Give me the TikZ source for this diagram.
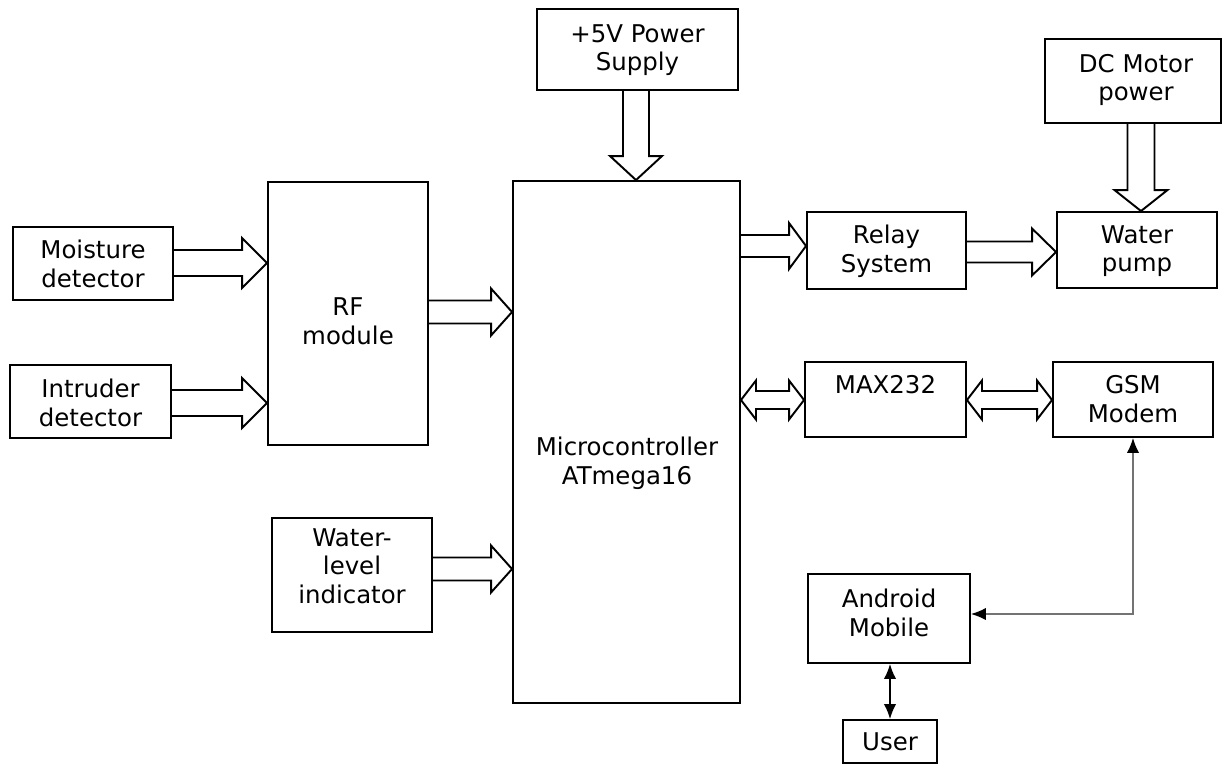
\documentclass[tikz,border=0pt]{standalone}
\usepackage{fontspec}
\setmainfont{DejaVu Sans}
\usetikzlibrary{calc,arrows.meta}
\tikzset{
  boxst/.style={draw, line width=1.1pt, inner sep=0pt},
  txt/.style={align=center, inner sep=0pt, font=\fontsize{13.9}{16.3}\selectfont},
  barrow/.style={draw, line width=1.1pt, line join=miter},
  greyline/.style={draw=black!55, line width=0.8pt, {Latex[length=8.5pt,width=7pt,color=black]}-{Latex[length=8.5pt,width=7pt,color=black]}},
  userline/.style={draw, line width=0.8pt, {Latex[length=8.5pt,width=7pt]}-{Latex[length=8.5pt,width=7pt]}}
}
\newcommand\blk[5]{\node[boxst, minimum width=#4*0.02cm, minimum height=#5*0.02cm] (#1) at (#2,#3) {};}
\newcommand\rightblk[6]{%
  \path (0,#3) coordinate (yr);
  \coordinate (s) at (#1.east|-yr);
  \coordinate (t) at (#2.west|-yr);
  \draw[barrow] ($(s)+(0,-#4)$) -- ($(t)+(-#6,-#4)$) -- ($(t)+(-#6,-#5)$) -- (t)
    -- ($(t)+(-#6,#5)$) -- ($(t)+(-#6,#4)$) -- ($(s)+(0,#4)$);}
\newcommand\downblk[6]{%
  \path (#3,0) coordinate (xr);
  \coordinate (s) at (#1.south-|xr);
  \coordinate (t) at (#2.north-|xr);
  \draw[barrow] ($(s)+(-#4,0)$) -- ($(t)+(-#4,-#6)$) -- ($(t)+(-#5,-#6)$) -- (t)
    -- ($(t)+(#5,-#6)$) -- ($(t)+(#4,-#6)$) -- ($(s)+(#4,0)$);}
\newcommand\dblblk[6]{%
  \path (0,#3) coordinate (yr);
  \coordinate (s) at (#1.east|-yr);
  \coordinate (t) at (#2.west|-yr);
  \draw[barrow] (s) -- ($(s)+(#6,-#5)$) -- ($(s)+(#6,-#4)$) -- ($(t)+(-#6,-#4)$)
    -- ($(t)+(-#6,-#5)$) -- (t) -- ($(t)+(-#6,#5)$) -- ($(t)+(-#6,#4)$)
    -- ($(s)+(#6,#4)$) -- ($(s)+(#6,#5)$) -- cycle;}
\begin{document}
\begin{tikzpicture}[x=0.02cm, y=-0.02cm]
\useasboundingbox (0,0) rectangle (1225,772);
% boxes
\blk{moist}{93}{263.5}{160}{73}
\blk{intr}{90.5}{401.5}{161}{73}
\blk{rf}{348}{313.5}{160}{263}
\blk{mcu}{626.5}{442}{227}{522}
\blk{pwr}{637.5}{49.5}{201}{81}
\blk{wl}{352}{575}{160}{114}
\blk{relay}{886.5}{250.5}{159}{77}
\blk{pump}{1137}{250}{160}{76}
\blk{dc}{1133}{81}{176}{84}
\blk{max}{885.5}{399.5}{161}{75}
\blk{gsm}{1133}{399.5}{160}{75}
\blk{andr}{889}{618.5}{162}{89}
\blk{user}{890}{741.5}{94}{43}
% texts
\node[txt] (moist-t) at (93,264) {Moisture\\detector};
\node[txt] (intr-t) at (90.5,403) {Intruder\\detector};
\node[txt] (rf-t) at (348,321) {RF\\module};
\node[txt] (mcu-t) at (627,463) {Microcontroller\\ATmega16};
\node[txt] (pwr-t) at (637.5,50) {+5V Power\\Supply};
\node[txt] (wl-t) at (352,566) {Water-\\level\\indicator};
\node[txt] (relay-t) at (886.5,251) {Relay\\System};
\node[txt] (pump-t) at (1137,251) {Water\\pump};
\node[txt] (dc-t) at (1136,80) {DC Motor\\power};
\node[txt] (max-t) at (885.5,385) {MAX232};
\node[txt] (gsm-t) at (1133,399) {GSM\\Modem};
\node[txt] (andr-t) at (889,613) {Android\\Mobile};
\node[txt] (user-t) at (890,742) {User};
% block arrows
\rightblk{moist}{rf}{263}{13}{25}{25}
\rightblk{intr}{rf}{403}{13}{25}{25}
\rightblk{rf}{mcu}{312}{11.5}{23.5}{21}
\rightblk{wl}{mcu}{569}{11.5}{23.5}{21}
\rightblk{mcu}{relay}{246}{11}{23}{17}
\rightblk{relay}{pump}{252}{10.5}{23.5}{24}
\downblk{pwr}{mcu}{636}{13}{26}{24}
\downblk{dc}{pump}{1141}{13.5}{26.5}{21}
\dblblk{mcu}{max}{400}{9}{19.5}{15}
\dblblk{max}{gsm}{400}{9}{19.5}{15}
% thin connectors
\path (1133,614) coordinate (bend);
\draw[greyline] (gsm.south-|bend) -- (bend) -- (andr.east|-bend);
\draw[userline] (andr.south-|user.north) -- (user.north);
\end{tikzpicture}
\end{document}
